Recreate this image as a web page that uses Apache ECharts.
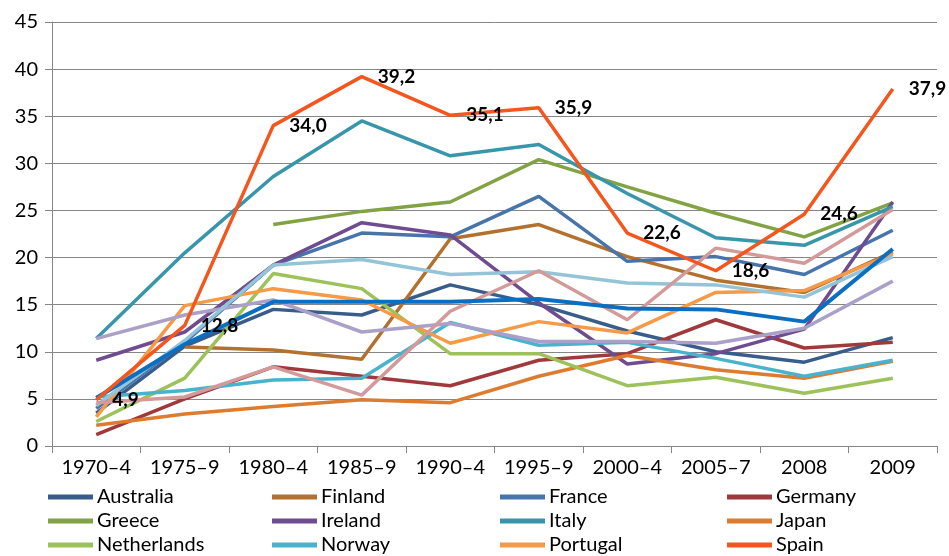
<!DOCTYPE html>
<html>
<head>
<meta charset="utf-8">
<script src="https://cdn.jsdelivr.net/npm/echarts@6/dist/echarts.min.js"></script>
<style>html,body{margin:0;padding:0;background:#fff}#c{width:949px;height:556px}</style>
</head>
<body>
<div id="c"></div>
<script>
const categories = ['1970–4','1975–9','1980–4','1985–9','1990–4','1995–9','2000–4','2005–7','2008','2009'];
const yTicks = [0,5,10,15,20,25,30,35,40,45];

const australia   = [3.5, 10.6, 14.5, 13.9, 17.1, 15.0, 12.2, 10.0, 8.9, 11.5];
const finland     = [null, 10.5, 10.2, 9.2, 22.0, 23.5, 20.1, 17.6, 16.3, 20.6];
const france      = [4.0, 11.0, 19.2, 22.6, 22.2, 26.5, 19.6, 20.1, 18.2, 22.9];
const germany     = [1.2, 5.0, 8.4, 7.4, 6.4, 9.1, 9.8, 13.4, 10.4, 11.0];
const greece      = [null, null, 23.5, 24.9, 25.9, 30.4, 27.5, 24.7, 22.2, 25.8];
const ireland     = [9.1, 12.1, 19.2, 23.7, 22.4, 15.2, 8.7, 9.8, 12.4, 25.9];
const italy       = [11.4, 20.5, 28.6, 34.5, 30.8, 32.0, 26.8, 22.1, 21.3, 25.4];
const japan       = [2.2, 3.4, 4.2, 4.9, 4.6, 7.4, 9.6, 8.1, 7.2, 9.0];
const netherlands = [2.6, 7.2, 18.3, 16.7, 9.8, 9.8, 6.4, 7.3, 5.6, 7.2];
const norway      = [5.2, 5.9, 7.0, 7.2, 13.1, 10.7, 11.0, 9.3, 7.4, 9.1];
const portugal    = [3.1, 14.9, 16.7, 15.5, 10.9, 13.2, 12.0, 16.3, 16.5, 20.4];
const spain       = [4.9, 12.8, 34.0, 39.2, 35.1, 35.9, 22.6, 18.6, 24.6, 37.9];
const sweden      = [11.4, 13.9, 15.5, 12.1, 13.0, 11.1, 11.1, 10.9, 12.5, 17.5];
const uk          = [4.3, 11.2, 19.2, 19.8, 18.2, 18.5, 17.3, 17.1, 15.8, 20.1];
const usa         = [4.6, 5.2, 8.4, 5.4, 14.3, 18.6, 13.4, 21.0, 19.4, 25.1];
const average     = [5.1, 10.8, 15.3, 15.3, 15.3, 15.6, 14.6, 14.5, 13.2, 20.9];

const seriesDefs = [
  ['Australia', australia, '#385D8A'],
  ['Finland', finland, '#B3712F'],
  ['France', france, '#4674AB'],
  ['Germany', germany, '#A0393B'],
  ['Greece', greece, '#82A243'],
  ['Ireland', ireland, '#6E4C8F'],
  ['Italy', italy, '#3896AB'],
  ['Japan', japan, '#DD7C2F'],
  ['Netherlands', netherlands, '#9DC25A'],
  ['Norway', norway, '#49B3CE'],
  ['Portugal', portugal, '#F79A48'],
  ['Sweden', sweden, '#ABA0C8'],
  ['UK', uk, '#93C4D8'],
  ['USA', usa, '#D49A9A'],
  ['Average', average, '#0A6FC2'],
  ['Spain', spain, '#F4561D']
];

const FONT = 'Lato';
const chart = echarts.init(document.getElementById('c'));
const series = seriesDefs.map(([name, data, color]) => {
  const isSpain = name === 'Spain';
  return {
    name, type: 'line', data,
    symbol: isSpain ? 'circle' : 'none',
    symbolSize: isSpain ? 0.01 : 0,
    showSymbol: isSpain,
    connectNulls: false,
    lineStyle: { color, width: name === 'Average' ? 4 : 3.5 },
    itemStyle: { color },
    label: isSpain ? {
      show: true, position: 'right', distance: 16,
      fontFamily: FONT, fontSize: 19, fontWeight: 'bold', color: '#000',
      formatter: p => p.value.toFixed(1).replace('.', ',')
    } : { show: false },
    labelLayout: { hideOverlap: false },
    emphasis: { disabled: true }
  };
});

const legendCols = [
  ['Australia','Greece','Netherlands'],
  ['Finland','Ireland','Norway'],
  ['France','Italy','Portugal'],
  ['Germany','Japan','Spain']
];
const legendLefts = [48, 272, 500, 727];
const legends = legendCols.map((d, i) => ({
  data: d, orient: 'vertical', left: legendLefts[i], top: 487,
  icon: 'rect', itemWidth: 45, itemHeight: 5, itemGap: 4,
  textStyle: { fontFamily: FONT, fontSize: 20, color: '#000', lineHeight: 20, padding: [0,0,0,-1] },
  padding: 0, selectedMode: false
}));

chart.setOption({
  animation: false,
  backgroundColor: '#fff',
  grid: { left: 52, right: 12, top: 22, bottom: 110, containLabel: false },
  legend: legends,
  xAxis: {
    type: 'category', data: categories, boundaryGap: true,
    axisLine: { lineStyle: { color: '#868686', width: 1 } },
    axisTick: { show: true, length: 7, lineStyle: { color: '#868686' } },
    axisLabel: { fontFamily: FONT, fontSize: 20, color: '#000', margin: 12, interval: 0 }
  },
  yAxis: {
    type: 'value', min: 0, max: 45, interval: 5,
    axisLine: { show: true, lineStyle: { color: '#868686' } },
    axisTick: { show: true, length: 7, lineStyle: { color: '#868686' } },
    splitLine: { lineStyle: { color: '#868686', width: 1 } },
    axisLabel: { fontFamily: FONT, fontSize: 20, color: '#000', margin: 14,
      formatter: v => yTicks.includes(v) ? String(v) : '' }
  },
  series
});
</script>
</body>
</html>
